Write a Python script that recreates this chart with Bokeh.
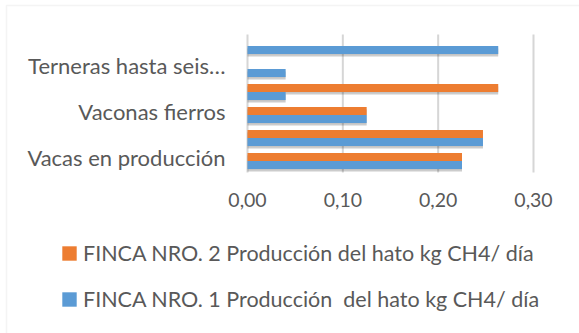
from bokeh.plotting import figure
from bokeh.models import Legend, LegendItem, ColumnDataSource, BoxAnnotation
from bokeh.core.properties import value
from bokeh.transform import dodge
from bokeh.embed import file_html
from bokeh.resources import INLINE

# ---- data (bottom to top) ----
category_idx = [0, 1, 2, 3, 4, 5]
tick_labels = ["Vacas en producción", "", "Vaconas fierros", "", "Terneras hasta seis…", ""]
finca1 = [0.225, 0.247, 0.125, 0.040, 0.040, 0.263]
finca2 = [0.225, 0.247, 0.125, 0.263, 0.0, 0.0]
x_ticks = [0.0, 0.1, 0.2, 0.3]
x_tick_labels = ["0,00", "0,10", "0,20", "0,30"]
series_names = ["FINCA NRO. 2 Producción del hato kg CH4/ día",
                "FINCA NRO. 1 Producción  del hato kg CH4/ día"]

FONT = "Lato"
FS = "22px"
FS_X = "19.5px"
FS_L = "21.5px"
TEXT = "#595959"
BLUE = "#5B9BD5"
ORANGE = "#ED7D31"
GRID = "#d6d6d6"

# plot-area geometry: value axis 0..0.30 spans pixels 247..533, categories 34..172 (23 px each)
PX_PER_UNIT = (533 - 247) / 0.30
X0_PX, W = 247, 579
PX_PER_CAT = 23
TOP_PX, H = 34, 333
x_lo = -X0_PX / PX_PER_UNIT
x_hi = (W - X0_PX) / PX_PER_UNIT
y_hi = len(category_idx) - 0.5 + TOP_PX / PX_PER_CAT
y_lo = y_hi - H / PX_PER_CAT

src = ColumnDataSource(dict(y=category_idx, f1=finca1, f2=finca2,
                            lab=tick_labels))
tsrc = ColumnDataSource(dict(x=x_ticks, lab=x_tick_labels))

p = figure(width=W, height=H, output_backend="svg", toolbar_location=None,
           x_range=(x_lo, x_hi), y_range=(y_lo, y_hi),
           min_border_left=0, min_border_right=0, min_border_top=0, min_border_bottom=0)
p.outline_line_color = None
p.axis.visible = False
p.grid.visible = False
p.background_fill_color = "white"
p.border_fill_color = "white"

ylo_cat = category_idx[0] - 0.5
yhi_cat = category_idx[-1] + 0.5

# vertical gridlines of the value axis
p.segment(x0="x", x1="x", y0=ylo_cat, y1=yhi_cat, source=tsrc,
          line_color=GRID, line_width=2)

BH = 0.345
OFF = 0.173

# soft shadows
for k, a in ((0.13, 0.10), (0.08, 0.14)):
    p.hbar(y=dodge("y", -OFF - k), right="f1", left=0, height=BH,
           source=src, fill_color="#000000", fill_alpha=a, line_color=None)
    p.hbar(y=dodge("y", OFF - k), right="f2", left=0, height=BH,
           source=src, fill_color="#000000", fill_alpha=a, line_color=None)

r2 = p.hbar(y=dodge("y", OFF), right="f2", left=0, height=BH,
            source=src, fill_color=ORANGE, line_color=None)
r1 = p.hbar(y=dodge("y", -OFF), right="f1", left=0, height=BH,
            source=src, fill_color=BLUE, line_color=None)

# category labels (left of the value-axis origin)
p.text(x=0, y=dodge("y", 0.16), text="lab", source=src, x_offset=-22,
       text_align="right", text_baseline="middle",
       text_font=value(FONT), text_font_size=value(FS), text_color=TEXT)

# value-axis tick labels
p.text(x="x", y=ylo_cat, text="lab", source=tsrc, y_offset=20,
       text_align="center", text_baseline="top",
       text_font=value(FONT), text_font_size=value(FS_X), text_color=TEXT)

legend = Legend(items=[LegendItem(label=series_names[0], renderers=[r2]),
                       LegendItem(label=series_names[1], renderers=[r1])],
                location=(60, 21), orientation="vertical",
                glyph_width=18, glyph_height=18, label_height=26, label_standoff=5,
                spacing=20, padding=0, margin=0,
                border_line_color=None, background_fill_alpha=0,
                label_text_font=FONT, label_text_font_size=FS_L,
                label_text_color=TEXT)
p.add_layout(legend, "center")

border = BoxAnnotation(left=6, right=800, top=5, bottom=800,
                       left_units="canvas", right_units="canvas",
                       top_units="canvas", bottom_units="canvas",
                       fill_alpha=0, line_color="#d9d9d9", line_width=1.5)
p.add_layout(border)

open("out.html", "w").write(file_html(p, INLINE))
